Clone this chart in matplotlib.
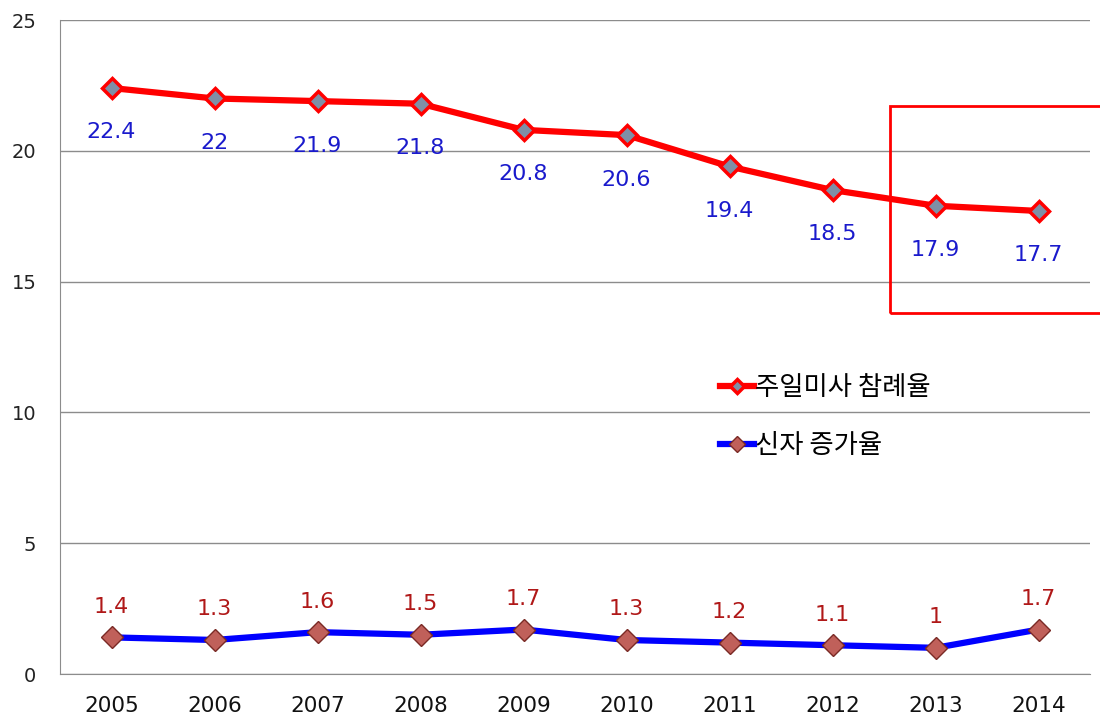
import matplotlib.pyplot as plt
from matplotlib.patches import Rectangle

plt.rcParams['font.family'] = ['DejaVu Sans', 'Noto Sans CJK KR']

years = ["2005", "2006", "2007", "2008", "2009", "2010", "2011", "2012", "2013", "2014"]
mass_rate = [22.4, 22, 21.9, 21.8, 20.8, 20.6, 19.4, 18.5, 17.9, 17.7]
growth_rate = [1.4, 1.3, 1.6, 1.5, 1.7, 1.3, 1.2, 1.1, 1, 1.7]
mass_label = "주일미사 참례율"
growth_label = "신자 증가율"

fig = plt.figure(figsize=(11, 7.21), dpi=100)
ax = fig.add_axes([60 / 1100, 47 / 721, 1030 / 1100, 654 / 721])

x = list(range(len(years)))

ax.plot(x, mass_rate, color="#ff0000", linewidth=4.5, marker="D", markersize=10,
        markerfacecolor="#7f8fa6", markeredgecolor="#ff0000", markeredgewidth=2.5,
        label=mass_label, zorder=3)
ax.plot(x, growth_rate, color="#0000ff", linewidth=4.5, marker="D", markersize=11,
        markerfacecolor="#c0605a", markeredgecolor="#7a2a25", markeredgewidth=1,
        label=growth_label, zorder=3)

for xi, v in zip(x, mass_rate):
    ax.annotate(f"{v:g}", (xi, v), xytext=(0, -32), textcoords="offset points",
                ha="center", va="center", fontsize=16, color="#1a1acc")
for xi, v in zip(x, growth_rate):
    ax.annotate(f"{v:g}", (xi, v), xytext=(0, 22), textcoords="offset points",
                ha="center", va="center", fontsize=16, color="#b01818")

ax.set_xlim(-0.5, len(years) - 0.5)
ax.set_ylim(0, 25)
ax.set_yticks([0, 5, 10, 15, 20, 25])
ax.set_xticks(x)
ax.set_xticklabels(years)
ax.tick_params(axis="x", length=0, labelsize=15.5, pad=16, labelcolor="#111111")
ax.tick_params(axis="y", length=0, labelsize=14, pad=17, labelcolor="#222222")
ax.yaxis.grid(True, color="#8c8c8c", linewidth=1)
ax.set_axisbelow(True)
for s in ["top", "right"]:
    ax.spines[s].set_visible(False)
ax.spines["left"].set_color("#8c8c8c")
ax.spines["bottom"].set_color("#8c8c8c")

ax.legend(loc="upper left", bbox_to_anchor=(696 / 1100, (721 - 350) / 721),
          bbox_transform=fig.transFigure, frameon=False,
          prop={"family": ["Noto Sans CJK KR"], "size": 19},
          handlelength=1.3, handletextpad=0.05, labelspacing=1.2, markerscale=0.75)

fig.patches.append(Rectangle((890 / 1100, (721 - 313) / 721), 0.2, 207 / 721,
                             transform=fig.transFigure, fill=False,
                             edgecolor="#ff0000", linewidth=2))

fig.savefig("out.png", dpi=100)
